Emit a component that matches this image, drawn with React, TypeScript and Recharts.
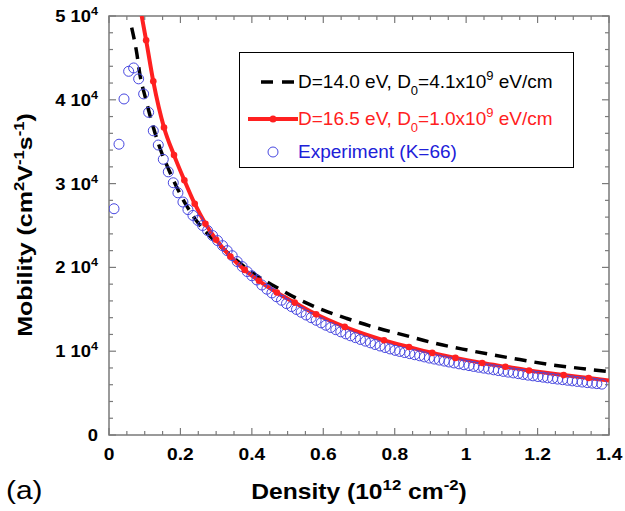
import React from "react";
import {
  ComposedChart,
  Line,
  Scatter,
  XAxis,
  YAxis,
  Legend,
  ReferenceArea,
} from "recharts";

// experiment (K=66), open circles
const EXP_DENSITY = [
  0.014, 0.028, 0.042, 0.055, 0.069, 0.083, 0.097, 0.111, 0.124, 0.138,
  0.152, 0.166, 0.18, 0.193, 0.207, 0.221, 0.235, 0.249, 0.262, 0.276,
  0.29, 0.304, 0.318, 0.331, 0.345, 0.359, 0.373, 0.387, 0.4, 0.414,
  0.428, 0.442, 0.456, 0.469, 0.483, 0.497, 0.511, 0.525, 0.538, 0.552,
  0.566, 0.58, 0.594, 0.607, 0.621, 0.635, 0.649, 0.663, 0.676, 0.69,
  0.704, 0.718, 0.732, 0.745, 0.759, 0.773, 0.787, 0.801, 0.814, 0.828,
  0.842, 0.856, 0.87, 0.883, 0.897, 0.911, 0.925, 0.939, 0.952, 0.966,
  0.98, 0.994, 1.008, 1.021, 1.035, 1.049, 1.063, 1.077, 1.09, 1.104,
  1.118, 1.132, 1.146, 1.159, 1.173, 1.187, 1.201, 1.215, 1.228, 1.242,
  1.256, 1.27, 1.284, 1.297, 1.311, 1.325, 1.339, 1.353, 1.366, 1.38,
];
const EXP_MOBILITY = [
  27000, 34700, 40100, 43400, 43800, 42500, 40700, 38500, 36300, 34600,
  32900, 31400, 30100, 28900, 27800, 26900, 26200, 25600, 25000, 24400,
  23800, 23200, 22600, 22000, 21400, 20700, 20100, 19500, 19000, 18500,
  17900, 17400, 16950, 16500, 16080, 15680, 15320, 14980, 14650, 14320,
  14000, 13690, 13380, 13100, 12830, 12570, 12310, 12070, 11840, 11620,
  11400, 11200, 11000, 10800, 10620, 10440, 10270, 10100, 9970, 9840,
  9710, 9580, 9450, 9320, 9180, 9060, 8940, 8820, 8710, 8600,
  8490, 8380, 8280, 8180, 8080, 7980, 7880, 7780, 7690, 7590,
  7500, 7410, 7320, 7230, 7140, 7060, 6980, 6900, 6820, 6740,
  6670, 6600, 6530, 6460, 6390, 6320, 6250, 6190, 6130, 6070,
];

// D=14.0 eV fit, black dashed
const FIT1_DENSITY = [
  0.0635, 0.078, 0.087, 0.101, 0.115, 0.138, 0.169, 0.194, 0.218, 0.246,
  0.3, 0.35, 0.4, 0.47, 0.535, 0.6, 0.666, 0.74, 0.824, 0.908,
  0.99, 1.076, 1.15, 1.235, 1.32, 1.4,
];
const FIT1_MOBILITY = [
  48600, 45500, 42900, 40400, 38100, 34800, 31500, 29200, 27300, 25500,
  23000, 21100, 19400, 17600, 16100, 14900, 13900, 12900, 11950, 11000,
  10250, 9550, 9000, 8400, 7950, 7560,
];

// D=16.5 eV fit, red line with dots
const FIT2_DENSITY = [
  0.0915, 0.104, 0.124, 0.154, 0.182, 0.211, 0.24, 0.27, 0.3, 0.34,
  0.38, 0.42, 0.47, 0.52, 0.58, 0.66, 0.77, 0.84, 0.905, 0.97,
  1.045, 1.11, 1.176, 1.273, 1.343, 1.4,
];
const FIT2_MOBILITY = [
  50000, 47100, 42200, 36700, 33400, 30400, 27600, 25200, 23300, 21300,
  19700, 18400, 17000, 15800, 14400, 12900, 11300, 10500, 9800, 9200,
  8600, 8150, 7700, 7150, 6800, 6500,
];

const X_TICKS = [
  0, 0.05, 0.1, 0.15, 0.2, 0.25, 0.3, 0.35, 0.4, 0.45, 0.5, 0.55, 0.6, 0.65,
  0.7, 0.75, 0.8, 0.85, 0.9, 0.95, 1, 1.05, 1.1, 1.15, 1.2, 1.25, 1.3, 1.35, 1.4,
];
const Y_TICKS = [
  0, 2000, 4000, 6000, 8000, 10000, 12000, 14000, 16000, 18000, 20000, 22000,
  24000, 26000, 28000, 30000, 32000, 34000, 36000, 38000, 40000, 42000, 44000,
  46000, 48000, 50000,
];

const expData = EXP_DENSITY.map((x, i) => ({ x, y: EXP_MOBILITY[i] }));
const fit1Data = FIT1_DENSITY.map((x, i) => ({ x, y: FIT1_MOBILITY[i] }));
const fit2Data = FIT2_DENSITY.map((x, i) => ({ x, y: FIT2_MOBILITY[i] }));

const FONT = "'Liberation Sans', Arial, Helvetica, sans-serif";
const GRAY = "#7a7a7a";
const RED = "#ff2020";
const BLUE = "#4848e0";
const PLOT = { left: 109, top: 16, right: 609, bottom: 435 };

const XTick = (props: any) => {
  const x = props.x;
  const v = props.payload.value;
  const major = Math.abs(v * 5 - Math.round(v * 5)) < 1e-6;
  const len = major ? 7 : 4;
  const label = v === 0 ? "0" : v === 1 ? "1" : v.toFixed(1);
  return (
    <g>
      <line x1={x} x2={x} y1={PLOT.bottom} y2={PLOT.bottom - len} stroke={GRAY} strokeWidth={1.2} />
      <line x1={x} x2={x} y1={PLOT.top} y2={PLOT.top + len} stroke={GRAY} strokeWidth={1.2} />
      {major && (
        <g transform={`translate(${x},460) scale(1.2,1)`}>
          <text textAnchor="middle" fontSize={16} fontWeight={700} fontFamily={FONT} fill="#000">
            {label}
          </text>
        </g>
      )}
    </g>
  );
};

const YTick = (props: any) => {
  const y = props.y;
  const v = props.payload.value;
  const major = v % 10000 === 0;
  const len = major ? 7 : 4;
  return (
    <g>
      <line x1={PLOT.left} x2={PLOT.left + len} y1={y} y2={y} stroke={GRAY} strokeWidth={1.2} />
      <line x1={PLOT.right} x2={PLOT.right - len} y1={y} y2={y} stroke={GRAY} strokeWidth={1.2} />
      {major && (
        <g transform={`translate(98,${y + 6}) scale(1.15,1)`}>
          <text textAnchor="end" fontSize={16} fontWeight={700} fontFamily={FONT} fill="#000">
            {v === 0 ? (
              "0"
            ) : (
              <>
                {`${v / 10000} 10`}
                <tspan dy={-7} fontSize={11}>4</tspan>
              </>
            )}
          </text>
        </g>
      )}
    </g>
  );
};

const XTitle = () => (
  <g>
    <g transform="translate(359,499) scale(1.12,1)">
      <text textAnchor="middle" fontSize={22} fontWeight={700} fontFamily={FONT} fill="#000">
        Density (10
        <tspan dy={-9} fontSize={15}>12</tspan>
        <tspan dy={9}> cm</tspan>
        <tspan dy={-9} fontSize={15}>-2</tspan>
        <tspan dy={9}>)</tspan>
      </text>
    </g>
    <g transform="translate(6,499) scale(1.15,1)">
      <text fontSize={26} fontFamily={FONT} fill="#000">(a)</text>
    </g>
  </g>
);

const YTitle = () => (
  <g transform="translate(32,225) rotate(-90) scale(1.19,1)">
    <text textAnchor="middle" fontSize={21} fontWeight={700} fontFamily={FONT} fill="#000">
      Mobility (cm
      <tspan dy={-8} fontSize={14}>2</tspan>
      <tspan dy={8}>V</tspan>
      <tspan dy={-8} fontSize={14}>-1</tspan>
      <tspan dy={8}>s</tspan>
      <tspan dy={-8} fontSize={14}>-1</tspan>
      <tspan dy={8}>)</tspan>
    </text>
  </g>
);

const sub = { fontSize: 13, position: "relative" as const, top: 7 };
const sup = { fontSize: 13, position: "relative" as const, top: -8 };

const renderLegend = () => (
  <div
    style={{
      width: 335,
      height: 116,
      border: "1.5px solid #000",
      boxSizing: "border-box",
      background: "#fff",
      position: "relative",
      fontFamily: FONT,
      fontSize: 19,
    }}
  >
    <div style={{ position: "absolute", left: 0, top: 18, height: 22, width: 333 }}>
      <svg width={60} height={22} style={{ position: "absolute", left: 0, top: 0 }}>
        <line x1={21} x2={57} y1={11} y2={11} stroke="#000" strokeWidth={3.5} strokeDasharray="12 9" />
      </svg>
      <span style={{ position: "absolute", left: 58, top: 0, lineHeight: "22px", whiteSpace: "nowrap", color: "#000" }}>
        D=14.0 eV, D<span style={sub}>0</span>=4.1x10<span style={sup}>9</span> eV/cm
      </span>
    </div>
    <div style={{ position: "absolute", left: 0, top: 55, height: 22, width: 333 }}>
      <svg width={60} height={22} style={{ position: "absolute", left: 0, top: 0 }}>
        <line x1={8} x2={58} y1={11} y2={11} stroke={RED} strokeWidth={4} />
        <circle cx={33} cy={11} r={3.5} fill={RED} />
      </svg>
      <span style={{ position: "absolute", left: 58, top: 0, lineHeight: "22px", whiteSpace: "nowrap", color: RED }}>
        D=16.5 eV, D<span style={sub}>0</span>=1.0x10<span style={sup}>9</span> eV/cm
      </span>
    </div>
    <div style={{ position: "absolute", left: 0, top: 88, height: 22, width: 333 }}>
      <svg width={60} height={22} style={{ position: "absolute", left: 0, top: 0 }}>
        <circle cx={33} cy={11} r={5} fill="none" stroke={BLUE} strokeWidth={1} />
      </svg>
      <span style={{ position: "absolute", left: 58, top: 0, lineHeight: "22px", whiteSpace: "nowrap", color: "#2020d8" }}>
        Experiment (K=66)
      </span>
    </div>
  </div>
);

const RedDot = (props: any) => {
  const { cx, cy, index } = props;
  if (index === 0 || index === fit2Data.length - 1) return <g key={`rd-${index}`} />;
  return <circle key={`rd-${index}`} cx={cx} cy={cy} r={3.3} fill={RED} />;
};

const OpenCircle = (props: any) => (
  <circle cx={props.cx} cy={props.cy} r={5} fill="none" stroke={BLUE} strokeWidth={1} />
);

export default function App() {
  return (
    <div style={{ position: "absolute", left: 0, top: 0, width: 625, height: 511, background: "#fff" }}>
      <ComposedChart width={625} height={511} margin={{ top: 16, right: 16, bottom: 0, left: 0 }}>
        <XAxis
          xAxisId="b"
          dataKey="x"
          type="number"
          domain={[0, 1.4]}
          ticks={X_TICKS}
          interval={0}
          allowDataOverflow
          height={76}
          axisLine={false}
          tickLine={false}
          tick={(p: any) => <XTick {...p} />}
          label={<XTitle />}
        />
        <YAxis
          yAxisId="l"
          dataKey="y"
          type="number"
          domain={[0, 50000]}
          ticks={Y_TICKS}
          interval={0}
          allowDataOverflow
          width={109}
          axisLine={false}
          tickLine={false}
          tick={(p: any) => <YTick {...p} />}
          label={<YTitle />}
        />
        <ReferenceArea
          xAxisId="b"
          yAxisId="l"
          x1={0}
          x2={1.4}
          y1={0}
          y2={50000}
          fill="#fff"
          fillOpacity={0}
          stroke={GRAY}
          strokeWidth={1.5}
        />
        <Scatter
          xAxisId="b"
          yAxisId="l"
          data={expData}
          dataKey="y"
          shape={OpenCircle}
          isAnimationActive={false}
        />
        <Line
          xAxisId="b"
          yAxisId="l"
          data={fit1Data}
          dataKey="y"
          type="monotone"
          stroke="#000"
          strokeWidth={3.5}
          strokeDasharray="12 8"
          dot={false}
          isAnimationActive={false}
        />
        <Line
          xAxisId="b"
          yAxisId="l"
          data={fit2Data}
          dataKey="y"
          type="monotone"
          stroke={RED}
          strokeWidth={4}
          dot={RedDot}
          activeDot={false}
          isAnimationActive={false}
        />
        <Legend
          verticalAlign="middle"
          align="center"
          layout="horizontal"
          wrapperStyle={{ position: "absolute", left: 239, top: 52, width: 335, height: 116, margin: 0, padding: 0 }}
          content={renderLegend}
        />
      </ComposedChart>
    </div>
  );
}
